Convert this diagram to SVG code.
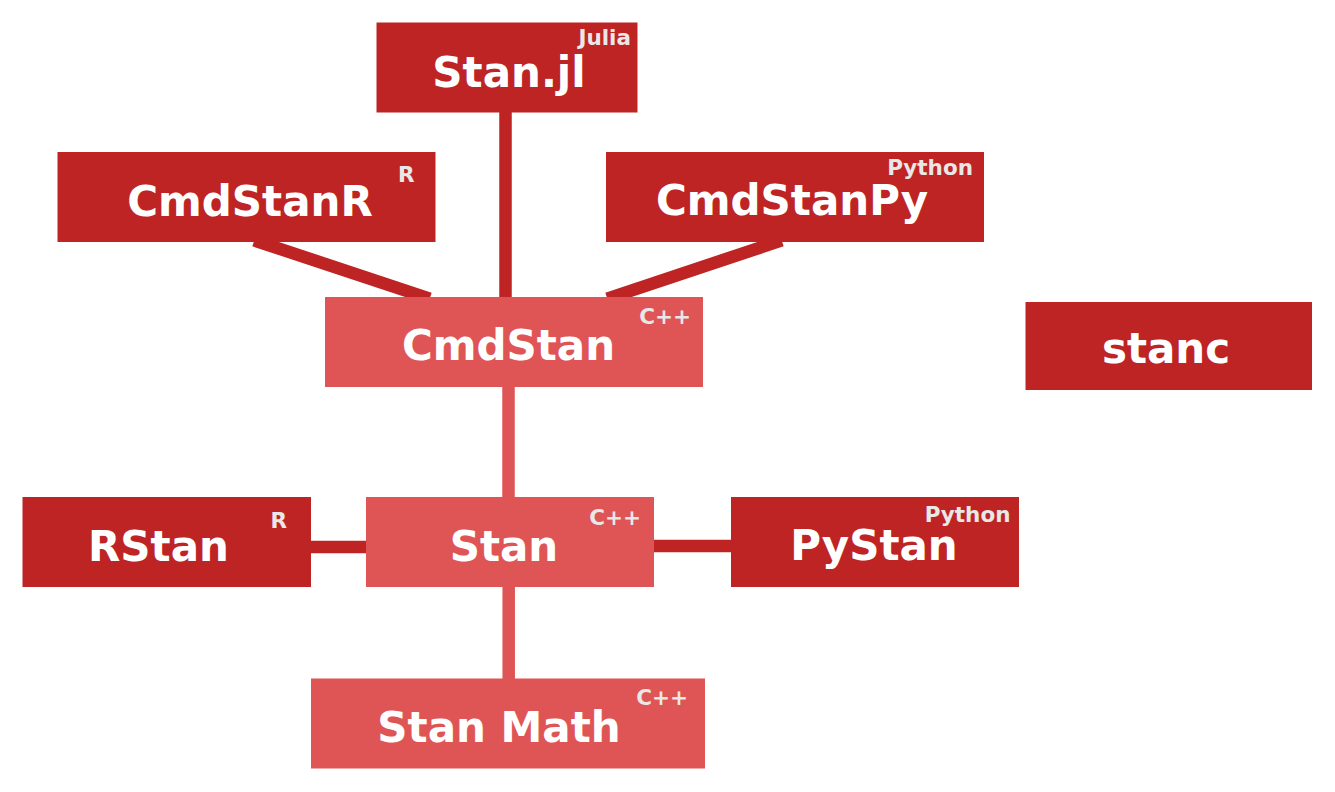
<svg xmlns="http://www.w3.org/2000/svg" width="1335" height="792" viewBox="0 0 1335 792">
<style>
.dark{fill:#BE2424}
.light{fill:#DF5555}
.ed{stroke:#BE2424;stroke-width:12.5;fill:none}
.el{stroke:#DF5555;stroke-width:12.5;fill:none}
.t{font-family:"DejaVu Sans",sans-serif;font-weight:bold;font-size:42px;fill:#FFFFFF;text-anchor:middle}
.l{font-family:"DejaVu Sans",sans-serif;font-weight:bold;font-size:21.5px;fill:#E8E8E8;text-anchor:end}
</style>
<rect width="1335" height="792" fill="#FFFFFF"/>
<g id="connectors">
<line class="ed" x1="505.5" y1="108" x2="505.5" y2="300"/>
<line class="ed" x1="254.3" y1="240.4" x2="429.7" y2="298.6"/>
<line class="ed" x1="781.7" y1="240.4" x2="607.3" y2="298.6"/>
<line class="el" x1="508.5" y1="383" x2="508.5" y2="500"/>
<line class="el" x1="508.7" y1="583" x2="508.7" y2="681"/>
<line class="ed" x1="307" y1="547" x2="370" y2="547"/>
<line class="ed" x1="650" y1="546" x2="735" y2="546"/>
</g>
<g id="stanjl">
<rect class="dark" x="376.5" y="22.5" width="261" height="90"/>
<text class="t" x="509" y="87">Stan.jl</text>
<text class="l" x="631" y="45">Julia</text>
</g>
<g id="cmdstanr">
<rect class="dark" x="57.5" y="152" width="378" height="90"/>
<text class="t" x="250" y="215.5">CmdStanR</text>
<text class="l" x="414.5" y="182">R</text>
</g>
<g id="cmdstanpy">
<rect class="dark" x="606" y="152" width="378" height="90"/>
<text class="t" x="792" y="215">CmdStanPy</text>
<text class="l" x="973" y="175">Python</text>
</g>
<g id="cmdstan">
<rect class="light" x="325" y="297" width="378" height="90"/>
<text class="t" x="508.5" y="359.5">CmdStan</text>
<text class="l" x="691" y="323.5">C++</text>
</g>
<g id="stanc">
<rect class="dark" x="1025.5" y="302" width="286.5" height="88"/>
<text class="t" x="1166" y="363">stanc</text>
</g>
<g id="rstan">
<rect class="dark" x="22.5" y="497" width="288.5" height="90"/>
<text class="t" x="158.5" y="560.5">RStan</text>
<text class="l" x="287" y="527.5">R</text>
</g>
<g id="stan">
<rect class="light" x="366" y="497" width="288" height="90"/>
<text class="t" x="504" y="560.5">Stan</text>
<text class="l" x="641" y="524.5">C++</text>
</g>
<g id="pystan">
<rect class="dark" x="731" y="497" width="288" height="90"/>
<text class="t" x="874" y="560">PyStan</text>
<text class="l" x="1010.5" y="521.5">Python</text>
</g>
<g id="stanmath">
<rect class="light" x="311" y="678.5" width="394" height="90"/>
<text class="t" x="499" y="741.5">Stan Math</text>
<text class="l" x="688" y="705">C++</text>
</g>
</svg>
